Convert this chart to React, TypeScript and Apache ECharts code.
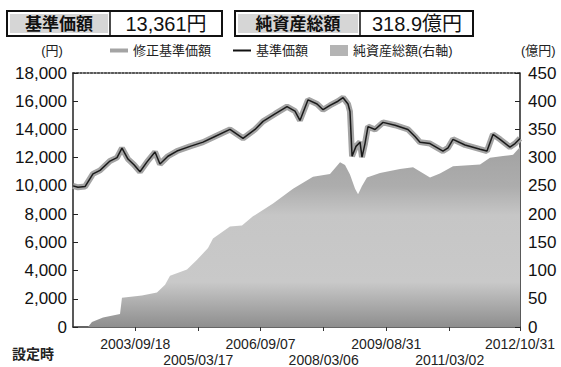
import React, { useEffect, useRef } from "react";
import * as echarts from "echarts";

const startDate = "2002-03-28";
const endDate = "2012-10-31";

const navDates = [
  "2002-03-28", "2002-05-10", "2002-07-10", "2002-09-17", "2002-11-17", "2003-02-11",
  "2003-04-13", "2003-05-26", "2003-07-17", "2003-09-07", "2003-10-29", "2003-12-29",
  "2004-03-07", "2004-04-19", "2004-06-27", "2004-09-13", "2005-01-04", "2005-04-27",
  "2005-08-08", "2005-12-16", "2006-04-08", "2006-07-21", "2006-09-28", "2007-01-10",
  "2007-04-24", "2007-07-02", "2007-08-14", "2007-10-23", "2008-01-09", "2008-03-01",
  "2008-04-30", "2008-07-08", "2008-08-21", "2008-10-03", "2008-10-20", "2008-11-07",
  "2008-12-11", "2009-01-15", "2009-02-01", "2009-02-27", "2009-03-25", "2009-05-25",
  "2009-08-02", "2009-11-14", "2010-03-06", "2010-05-06", "2010-06-18", "2010-09-13",
  "2011-01-03", "2011-02-16", "2011-03-31", "2011-07-13", "2011-11-20", "2012-01-19",
  "2012-03-11", "2012-05-11", "2012-08-05", "2012-09-18", "2012-10-31",
];
const navValues = [
  10000, 9900, 9950, 10850, 11100, 11760,
  12000, 12670, 11900, 11500, 11000, 11700,
  12400, 11550, 12100, 12470, 12800, 13100,
  13500, 14000, 13370, 14000, 14570, 15100,
  15620, 15300, 14640, 16100, 15800, 15400,
  15700, 16000, 16250, 15800, 15270, 12100,
  12800, 13100, 12040, 13000, 14200, 14000,
  14500, 14300, 14000, 13500, 13100, 13000,
  12470, 12700, 13300, 12900, 12600, 12470,
  13650, 13300, 12750, 13000, 13361,
];
const adjNavValues = navValues;

const assetDates = [
  "2002-03-28", "2002-08-05", "2002-09-08", "2002-12-13", "2003-05-09", "2003-05-26",
  "2003-11-15", "2004-03-24", "2004-06-02", "2004-07-15", "2004-12-09", "2005-03-06",
  "2005-06-09", "2005-07-22", "2005-12-16", "2006-03-30", "2006-07-03", "2006-12-24",
  "2007-06-15", "2007-12-05", "2008-04-30", "2008-07-26", "2008-09-07", "2008-10-20",
  "2008-12-03", "2008-12-29", "2009-02-01", "2009-03-16", "2009-07-07", "2009-12-27",
  "2010-04-19", "2010-09-13", "2010-12-08", "2011-03-31", "2011-11-20", "2012-02-14",
  "2012-06-06", "2012-09-01", "2012-10-31",
];
const assetValues = [
  0, 0, 9, 17, 23, 52,
  56, 61, 75, 91, 102, 119,
  140, 157, 178, 180, 196, 219,
  245, 266, 271, 292, 287, 270,
  245, 235, 250, 265, 273, 280,
  283, 265, 272, 285, 288, 300,
  303, 305, 318.9,
];

const tickDates = ["2003-09-18", "2005-03-17", "2006-09-07", "2008-03-06", "2009-08-31", "2011-03-02", "2012-10-31"];
const tickLabels = ["2003/09/18", "2005/03/17", "2006/09/07", "2008/03/06", "2009/08/31", "2011/03/02", "2012/10/31"];

const legendNames = ["修正基準価額", "基準価額", "純資産総額(右軸)"];
const navBoxLabel = "基準価額";
const navBoxValue = "13,361円";
const assetBoxLabel = "純資産総額";
const assetBoxValue = "318.9億円";

const toTs = (s: string) => Date.UTC(+s.slice(0, 4), +s.slice(5, 7) - 1, +s.slice(8, 10));

const FONT = "'Liberation Sans', 'Noto Sans CJK JP', sans-serif";

export default function App() {
  const ref = useRef<HTMLDivElement>(null);
  useEffect(() => {
    if (!ref.current) return;
    const chart = echarts.init(ref.current, null, { renderer: "svg" });
    const tickTs = tickDates.map(toTs);
    const rowA = tickTs.filter((_, i) => i % 2 === 0);
    const rowB = tickTs.filter((_, i) => i % 2 === 1);
    const fmt = (v: number) => {
      const i = tickTs.findIndex((t) => Math.abs(t - v) < 43200000);
      return i < 0 ? "" : tickLabels[i];
    };
    const nav = navDates.map((d, i) => [toTs(d), navValues[i]]);
    const adj = navDates.map((d, i) => [toTs(d), adjNavValues[i]]);
    const assets = assetDates.map((d, i) => [toTs(d), assetValues[i]]);
    const xMin = toTs(startDate);
    const xMax = toTs(endDate);

    const boxText = (x: number, text: string, size: number, bold: boolean) => ({
      type: "text",
      x,
      y: 24,
      style: {
        text,
        fill: "#111",
        font: `${bold ? "bold " : ""}${size}px ${FONT}`,
        align: "center",
        verticalAlign: "middle",
      },
    });
    const labelStyle = {
      formatter: fmt,
      fontSize: 14,
      lineHeight: 14,
      color: "#222",
      showMaxLabel: true,
      showMinLabel: true,
      hideOverlap: false,
    };

    chart.setOption({
      animation: false,
      backgroundColor: "#fff",
      textStyle: { fontFamily: FONT },
      grid: { left: 73, right: 41, top: 73, bottom: 37 },
      legend: {
        left: 110,
        top: 44,
        padding: 0,
        itemWidth: 18,
        itemHeight: 11,
        itemGap: 22,
        textStyle: { fontSize: 13, color: "#222", fontFamily: FONT },
        data: [
          { name: legendNames[0], icon: "path://M0,0 L18,0 L18,4 L0,4 Z", itemStyle: { color: "#a4a4a4" } },
          { name: legendNames[1], icon: "path://M0,0 L18,0 L18,2 L0,2 Z", itemStyle: { color: "#111" } },
          { name: legendNames[2], icon: "rect", itemStyle: { color: "#b4b4b4" } },
        ],
      },
      xAxis: [
        {
          type: "value",
          position: "bottom",
          min: xMin,
          max: xMax,
          axisLine: { lineStyle: { color: "#333", width: 1.5 } },
          axisTick: { show: true, length: 4, customValues: tickTs, lineStyle: { color: "#333" } },
          axisLabel: { ...labelStyle, customValues: rowA, margin: 10 },
          splitLine: { show: false },
        },
        {
          type: "value",
          position: "bottom",
          min: xMin,
          max: xMax,
          axisLine: { show: false },
          axisTick: { show: false },
          axisLabel: { ...labelStyle, customValues: rowB, margin: 26 },
          splitLine: { show: false },
        },
        {
          type: "value",
          position: "top",
          min: xMin,
          max: xMax,
          axisLine: { lineStyle: { color: "#222", width: 1.5, type: [2, 1.5] } },
          axisTick: { show: false },
          axisLabel: { show: false },
          splitLine: { show: false },
        },
      ],
      yAxis: [
        {
          type: "value",
          min: 0,
          max: 18000,
          interval: 2000,
          axisLine: { show: true, lineStyle: { color: "#222", width: 1.5 } },
          axisTick: { show: true, inside: true, length: 5, lineStyle: { color: "#222" } },
          axisLabel: {
            fontSize: 17,
            lineHeight: 17,
            color: "#111",
            margin: 6,
            formatter: (v: number) => v.toLocaleString("en-US"),
          },
          splitLine: { show: false },
        },
        {
          type: "value",
          min: 0,
          max: 450,
          interval: 50,
          position: "right",
          axisLine: { show: true, lineStyle: { color: "#222", width: 1.5 } },
          axisTick: { show: true, inside: true, length: 5, lineStyle: { color: "#222" } },
          axisLabel: { fontSize: 17, lineHeight: 17, color: "#111", margin: 8 },
          splitLine: { show: false },
        },
      ],
      series: [
        {
          name: legendNames[2],
          type: "line",
          yAxisIndex: 1,
          data: assets,
          showSymbol: false,
          symbol: "none",
          color: "#b4b4b4",
          lineStyle: { width: 0 },
          areaStyle: {
            opacity: 1,
            color: new echarts.graphic.LinearGradient(0, 0, 0, 1, [
              { offset: 0, color: "#a2a2a2" },
              { offset: 0.22, color: "#adadad" },
              { offset: 0.38, color: "#c6c6c6" },
              { offset: 0.75, color: "#c9c9c9" },
              { offset: 0.88, color: "#aaaaaa" },
              { offset: 1, color: "#8e8e8e" },
            ]),
          },
          z: 1,
        },
        {
          name: legendNames[0],
          type: "line",
          data: adj,
          showSymbol: false,
          symbol: "none",
          color: "#a4a4a4",
          lineStyle: { width: 6, color: "#a4a4a4" },
          z: 2,
        },
        {
          name: legendNames[1],
          type: "line",
          data: nav,
          showSymbol: false,
          symbol: "none",
          color: "#111",
          lineStyle: { width: 1.5, color: "#1a1a1a" },
          z: 3,
        },
      ],
      graphic: [
        { type: "rect", shape: { x: 7, y: 11, width: 215, height: 25 }, style: { fill: "#fff", stroke: "#111", lineWidth: 2 } },
        { type: "rect", shape: { x: 10, y: 14, width: 98, height: 19 }, style: { fill: "#d6d6d6" } },
        { type: "line", shape: { x1: 110, y1: 11, x2: 110, y2: 36 }, style: { stroke: "#111", lineWidth: 1.5 } },
        boxText(59, navBoxLabel, 17, true),
        boxText(166, navBoxValue, 20, false),
        { type: "rect", shape: { x: 235, y: 11, width: 238, height: 25 }, style: { fill: "#fff", stroke: "#111", lineWidth: 2 } },
        { type: "rect", shape: { x: 238, y: 14, width: 120, height: 19 }, style: { fill: "#d6d6d6" } },
        { type: "line", shape: { x1: 360, y1: 11, x2: 360, y2: 36 }, style: { stroke: "#111", lineWidth: 1.5 } },
        boxText(298, assetBoxLabel, 17, true),
        boxText(417, assetBoxValue, 20, false),
        { type: "text", x: 52, y: 50, style: { text: "(円)", font: `13px ${FONT}`, fill: "#222", align: "center", verticalAlign: "middle" } },
        { type: "text", x: 521, y: 50, style: { text: "(億円)", font: `13px ${FONT}`, fill: "#222", align: "left", verticalAlign: "middle" } },
        { type: "text", x: 12, y: 354, style: { text: "設定時", font: `bold 14px ${FONT}`, fill: "#222", align: "left", verticalAlign: "middle" } },
      ],
    });
    return () => chart.dispose();
  }, []);
  return <div ref={ref} style={{ position: "absolute", left: 0, top: 0, width: 561, height: 367 }} />;
}
